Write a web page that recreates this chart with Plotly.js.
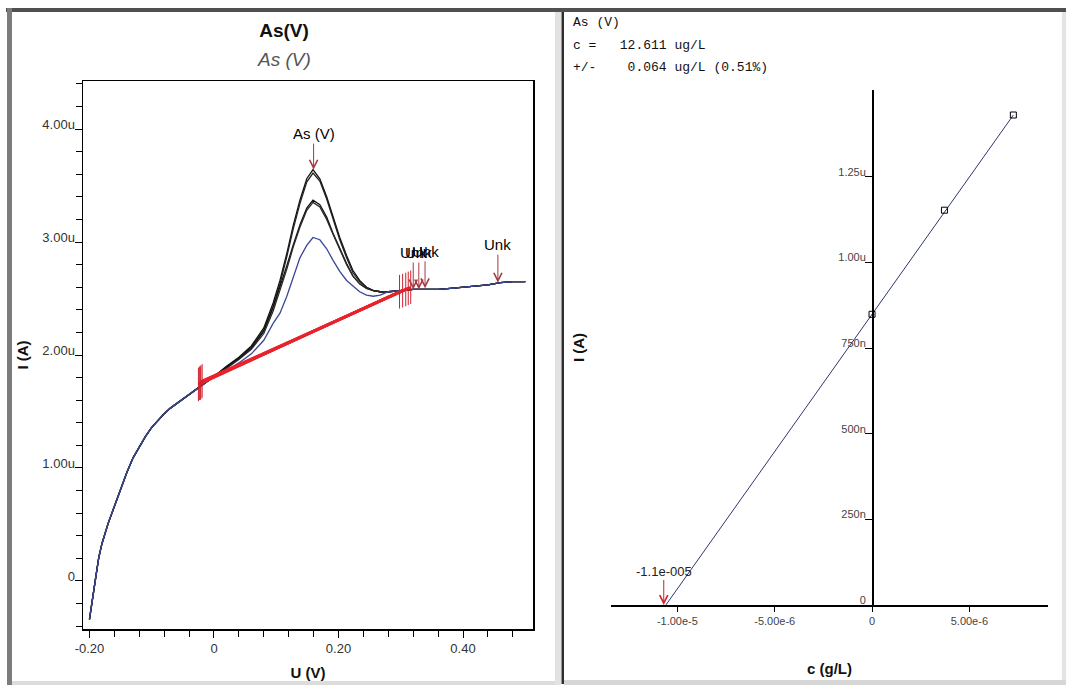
<!DOCTYPE html>
<html><head><meta charset="utf-8">
<script src="https://cdn.plot.ly/plotly-3.0.1.min.js"></script>
<style>html,body{margin:0;padding:0;background:#fff}#chart{width:1066px;height:687px}</style>
</head><body><div id="chart"></div>
<script>
// ---------- Voltammogram data (U in V, I in µA) ----------
const uStart = [-0.200,-0.195,-0.190,-0.185,-0.180,-0.170,-0.160,-0.150,-0.140,-0.130,-0.120,-0.110,-0.100,-0.090,-0.080,-0.070,-0.060,-0.050,-0.040,-0.030,-0.020,-0.010,0.000];
const iStart = [-0.34,-0.14,0.03,0.21,0.33,0.51,0.66,0.80,0.96,1.09,1.19,1.28,1.36,1.42,1.48,1.53,1.57,1.61,1.65,1.69,1.73,1.77,1.81];

const uPeak = [0.020,0.040,0.060,0.080,0.095,0.106,0.117,0.127,0.138,0.149,0.159,0.170,0.181,0.191,0.202,0.213,0.223,0.234,0.245,0.256,0.267];
const iStd2a = [1.90,1.98,2.08,2.24,2.46,2.66,2.90,3.14,3.37,3.56,3.64,3.56,3.40,3.22,3.04,2.88,2.75,2.66,2.60,2.57,2.56];
const iStd2b = [1.89,1.97,2.07,2.22,2.43,2.63,2.87,3.11,3.34,3.53,3.61,3.54,3.38,3.20,3.02,2.86,2.73,2.65,2.60,2.57,2.56];
const iStd1a = [1.89,1.97,2.06,2.21,2.42,2.60,2.79,2.97,3.15,3.30,3.37,3.33,3.22,3.08,2.94,2.81,2.70,2.63,2.59,2.57,2.56];
const iStd1b = [1.88,1.96,2.05,2.19,2.39,2.57,2.76,2.95,3.13,3.28,3.35,3.31,3.20,3.07,2.93,2.80,2.70,2.63,2.59,2.57,2.56];
const iSample = [1.86,1.93,2.01,2.13,2.28,2.37,2.52,2.69,2.86,2.97,3.04,3.02,2.94,2.84,2.74,2.66,2.61,2.56,2.53,2.52,2.53];

const uPlat = [0.28,0.30,0.32,0.34,0.36,0.38,0.40,0.42,0.44,0.46,0.48,0.50];
const iPlat = [2.56,2.57,2.58,2.58,2.58,2.59,2.60,2.61,2.62,2.64,2.65,2.65];

// baselines (start / end of each)
const baseStartU = [-0.025,-0.023,-0.021,-0.022,-0.019];
const baseStartI = [1.74,1.75,1.76,1.75,1.77];
const baseEndU   = [0.298,0.303,0.308,0.312,0.316];
const baseEndI   = [2.56,2.57,2.58,2.59,2.60];

// peak labels
const peakU = [0.160], peakI = [3.64], peakLabel = ['As (V)'];
const unkU = [0.320,0.329,0.339,0.456];
const unkI = [2.58,2.58,2.59,2.64];

// ---------- Calibration (standard addition) ----------
const cAdded = [0, 3.72e-6, 7.26e-6];
const iCal   = [0.849, 1.153, 1.431];           // µA
const fitC   = [-1.059e-5, 7.26e-6];
const fitI   = [0, 1.431];
const interceptC = -1.07e-5, interceptLabel = '-1.1e-005';

const xTickVals = [-0.2,0,0.2,0.4], xTickText = ['-0.20','0','0.20','0.40'];
const yTickVals = [0,1,2,3,4], yTickText = ['0','1.00u','2.00u','3.00u','4.00u'];
const x2TickVals = [-1e-5,-5e-6,0,5e-6], x2TickText = ['-1.00e-5','-5.00e-6','0','5.00e-6'];
const y2TickVals = [0,0.25,0.5,0.75,1.0,1.25], y2TickText = ['0','250n','500n','750n','1.00u','1.25u'];

const resultLines = ['As (V)', 'c =   12.611 ug/L', '+/-    0.064 ug/L (0.51%)'];

// ---------- build ----------
const W = 1066, H = 687;
const PX = p => p / W, PY = p => 1 - p / H;
const SANS = '"Liberation Sans",Arial,sans-serif';
const MONO = '"Liberation Mono","Courier New",monospace';

function curve(iPk, color) {
  return {x: uStart.concat(uPeak, uPlat), y: iStart.concat(iPk, iPlat), xaxis:'x', yaxis:'y',
    mode:'lines', line:{color:color, width:1.3}, hoverinfo:'skip', showlegend:false};
}
const bx = [], by = [];
for (let k = 0; k < baseStartU.length; k++) {
  bx.push(baseStartU[k], baseEndU[k], null);
  by.push(baseStartI[k], baseEndI[k], null);
}
const traces = [
  curve(iStd2a,'#111'), curve(iStd2b,'#222'), curve(iStd1a,'#111'), curve(iStd1b,'#2a2a2a'),
  curve(iSample,'#3a4696'),
  {x:bx, y:by, xaxis:'x', yaxis:'y', mode:'lines', line:{color:'#e8232b', width:2.8}, showlegend:false},
  {x:baseStartU.concat(baseEndU), y:baseStartI.concat(baseEndI), xaxis:'x', yaxis:'y', mode:'markers',
   marker:{symbol:'line-ns-open', size:24, color:'#d0202c', line:{color:'#d0202c', width:1}}, showlegend:false},
  {x:fitC, y:fitI, xaxis:'x2', yaxis:'y2', mode:'lines', line:{color:'#30366e', width:1}, showlegend:false},
  {x:cAdded, y:iCal, xaxis:'x2', yaxis:'y2', mode:'markers',
   marker:{symbol:'square-open', size:6, color:'#000', line:{color:'#000', width:1}}, showlegend:false, cliponaxis:false}
];

const annotations = [];
annotations.push({xref:'paper', yref:'paper', x:PX(284), y:PY(60), text:'<i>As (V)</i>', showarrow:false,
  font:{family:SANS, size:19, color:'#555'}, xanchor:'center', yanchor:'middle'});
peakU.forEach((u,k) => annotations.push({xref:'x', yref:'y', x:u, y:peakI[k], text:peakLabel[k], showarrow:true,
  ax:0, ay:-36, arrowhead:5, arrowsize:1.6, arrowwidth:1, arrowcolor:'#a33a44', font:{family:SANS, size:15, color:'#000'}}));
unkU.forEach((u,k) => annotations.push({xref:'x', yref:'y', x:u, y:unkI[k], text:'Unk', showarrow:true,
  ax:0, ay:(k===3?-38:-37), arrowhead:5, arrowsize:1.6, arrowwidth:1, arrowcolor:'#a33a44', font:{family:SANS, size:15, color:'#000'}}));
annotations.push({xref:'x2', yref:'y2', x:interceptC, y:0, text:interceptLabel, showarrow:true, ax:0, ay:-34,
  arrowhead:5, arrowsize:1.6, arrowwidth:1, arrowcolor:'#d0202c', font:{family:SANS, size:13, color:'#222'}});
resultLines.forEach((t,k) => annotations.push({xref:'paper', yref:'paper', x:PX(571), y:PY(22 + 23*k),
  text:t.replace(/ /g,'\u00a0'), showarrow:false, xanchor:'left', yanchor:'middle', font:{family:MONO, size:13, color:'#111'}}));

const shapes = [
  {type:'rect', xref:'paper', yref:'paper', x0:PX(6), x1:PX(1066), y0:PY(8), y1:PY(12), fillcolor:'#505050', line:{width:0}},
  {type:'rect', xref:'paper', yref:'paper', x0:PX(7), x1:PX(12), y0:PY(8), y1:PY(685), fillcolor:'#7c7c7c', line:{width:0}},
  {type:'rect', xref:'paper', yref:'paper', x0:PX(12), x1:PX(558), y0:PY(681), y1:PY(685), fillcolor:'#dcdcdc', line:{width:0}},
  {type:'rect', xref:'paper', yref:'paper', x0:PX(555), x1:PX(561), y0:PY(12), y1:PY(685), fillcolor:'#e2e2e2', line:{width:0}},
  {type:'rect', xref:'paper', yref:'paper', x0:PX(561.5), x1:PX(564), y0:PY(12), y1:PY(684), fillcolor:'#2e2e2e', line:{width:0}},
  {type:'rect', xref:'paper', yref:'paper', x0:PX(564), x1:PX(1066), y0:PY(680), y1:PY(685), fillcolor:'#d6d6d6', line:{width:0}},
  {type:'rect', xref:'paper', yref:'paper', x0:PX(1062), x1:PX(1066), y0:PY(12), y1:PY(680), fillcolor:'#e4e4e4', line:{width:0}}
];

const tickFontL = {family:SANS, size:13, color:'#333'};
const tickFontR = {family:SANS, size:11, color:'#444'};
const titleFont = {family:SANS, size:15, color:'#111'};

const layout = {
  width:W, height:H, margin:{l:0,r:0,t:0,b:0,pad:0},
  paper_bgcolor:'#fff', plot_bgcolor:'#fff', showlegend:false,
  title:{text:'<b>As(V)</b>', x:PX(284), xanchor:'center', y:PY(30), yanchor:'middle', xref:'container', yref:'container',
    font:{family:SANS, size:19, color:'#111'}},
  xaxis:{domain:[PX(83),PX(533)], range:[-0.2104,0.5124], anchor:'y', showline:true, linecolor:'#000', linewidth:1.5, mirror:true,
    showgrid:false, zeroline:false, ticks:'outside', ticklen:7, tickwidth:1, tickcolor:'#000',
    tickmode:'array', tickvals:xTickVals, ticktext:xTickText, tickfont:tickFontL, ticklabelstandoff:0,
    minor:{ticks:'outside', dtick:0.04, tick0:0, ticklen:6, tickwidth:1, tickcolor:'#000', showgrid:false},
    title:{text:'<b>U (V)</b>', font:titleFont, standoff:12}, automargin:false},
  yaxis:{domain:[PY(629),PY(81)], range:[-0.425,4.425], anchor:'x', showline:true, linecolor:'#000', linewidth:1.5, mirror:true,
    showgrid:false, zeroline:false, ticks:'outside', ticklen:7, tickwidth:1, tickcolor:'#000',
    tickmode:'array', tickvals:yTickVals, ticktext:yTickText, tickfont:tickFontL, ticklabelshift:-5, ticklabelstandoff:-3,
    minor:{ticks:'outside', dtick:0.2, tick0:0, ticklen:6, tickwidth:1, tickcolor:'#000', showgrid:false},
    title:{text:'<b>I (A)</b>', font:titleFont, standoff:10}, automargin:false},
  xaxis2:{domain:[PX(611),PX(1048)], range:[-1.341e-5,9.04e-6], anchor:'y2', showline:true, linecolor:'#000', linewidth:1.5,
    showgrid:false, zeroline:false, ticks:'outside', ticklen:5, tickwidth:1, tickcolor:'#000',
    tickmode:'array', tickvals:x2TickVals, ticktext:x2TickText, tickfont:tickFontR, ticklabelstandoff:0,
    title:{text:'<b>c (g/L)</b>', font:titleFont, standoff:38}, automargin:false},
  yaxis2:{domain:[PY(605),PY(90)], range:[0,1.504], anchor:'free', position:PX(872), showline:true, linecolor:'#000', linewidth:1.5,
    showgrid:false, zeroline:false, ticks:'outside', ticklen:7, tickwidth:1, tickcolor:'#000',
    tickmode:'array', tickvals:y2TickVals, ticktext:y2TickText, tickfont:tickFontR, ticklabelshift:-5, ticklabelstandoff:-3,
    title:{text:'<b>I (A)</b>', font:titleFont, standoff:248}, automargin:false},
  annotations:annotations, shapes:shapes
};

Plotly.newPlot('chart', traces, layout, {staticPlot:true, displayModeBar:false});
</script></body></html>
